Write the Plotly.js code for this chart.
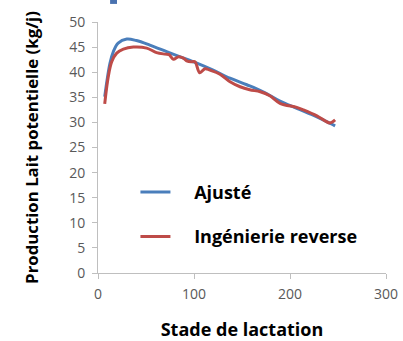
<!DOCTYPE html>
<html>
<head>
<meta charset="utf-8">
<script src="https://cdn.plot.ly/plotly-3.0.1.min.js"></script>
<style>html,body{margin:0;padding:0;background:#fff;}#chart{width:403px;height:341px;}</style>
</head>
<body>
<div id="chart"></div>
<script>
// Ajusté (fitted curve)
const fitDays = [7, 12.5, 16, 21, 30, 40, 54, 71.5, 85, 103, 120, 137.5, 155, 172, 189, 207, 228, 242, 247];
const fitMilk = [35.1, 41.8, 44.1, 45.8, 46.6, 46.3, 45.4, 44.1, 43.1, 41.8, 40.4, 38.8, 37.5, 36.1, 34.3, 32.8, 31.1, 29.8, 29.3];
// Ingénierie reverse
const revDays = [7, 10.7, 14.3, 19.5, 26.4, 36.8, 50.7, 61, 69.8, 74, 78.5, 84, 89, 93, 98, 101, 106, 111.5, 116.7, 127, 137.5, 148, 158, 169, 179, 189.6, 207, 214, 228, 236.5, 241.7, 247];
const revMilk = [33.7, 39.1, 42.1, 43.8, 44.6, 45.0, 44.8, 43.9, 43.6, 43.5, 42.6, 43.1, 42.8, 42.2, 42.1, 42.1, 39.9, 40.7, 40.4, 39.6, 38.1, 37.1, 36.5, 36.1, 35.3, 33.8, 33.0, 32.5, 31.3, 30.3, 29.9, 30.5];
const seriesNames = ["Ajusté", "Ingénierie reverse"];
const xTicks = [0, 100, 200, 300];
const yTicks = [0, 5, 10, 15, 20, 25, 30, 35, 40, 45, 50];

const FONT = "'Open Sans', sans-serif";
const NB = "\u00a0\u00a0\u00a0\u00a0";

const traces = [
  {x: fitDays, y: fitMilk, name: NB + seriesNames[0], mode: "lines", legendgroup: "a",
   line: {color: "#4A7EBB", width: 3, shape: "spline"}},
  {x: revDays, y: revMilk, name: NB + seriesNames[1], mode: "lines", legendgroup: "b",
   line: {color: "#BE4B48", width: 3, shape: "spline"}}
];

const axisCommon = {
  showgrid: false, zeroline: false, showline: true, linecolor: "#BFBFBF", linewidth: 1,
  ticks: "outside", ticklen: 5, tickcolor: "#BFBFBF",
  tickfont: {family: FONT, size: 14, color: "#595959"}
};

const layout = {
  width: 403, height: 341,
  margin: {l: 98, r: 17, t: 22, b: 68},
  paper_bgcolor: "#fff", plot_bgcolor: "#fff",
  font: {family: FONT},
  showlegend: true,
  legend: {x: 0.13, y: 0.395, xanchor: "left", yanchor: "top", bgcolor: "rgba(0,0,0,0)",
    font: {family: FONT, size: 18, color: "#000", weight: "bold"}, tracegroupgap: 18, itemwidth: 30},
  xaxis: Object.assign({}, axisCommon, {range: [0, 300], tickvals: xTicks, ticklabelstandoff: 3,
    title: {text: "<b>Stade de lactation</b>", font: {family: FONT, size: 18, color: "#000"}, standoff: 21}}),
  yaxis: Object.assign({}, axisCommon, {range: [0, 50], tickvals: yTicks, ticklabelstandoff: 4,
    title: {text: "<b>Production Lait potentielle (kg/j)</b>", font: {family: FONT, size: 16.8, color: "#000"}, standoff: 26}}),
  shapes: [{type: "rect", xref: "paper", yref: "paper", x0: 0.042, x1: 0.066, y0: 1.072, y1: 1.09,
    fillcolor: "#4A72B0", line: {width: 0}}]
};

Plotly.newPlot("chart", traces, layout, {staticPlot: true, displayModeBar: false});
</script>
</body>
</html>
